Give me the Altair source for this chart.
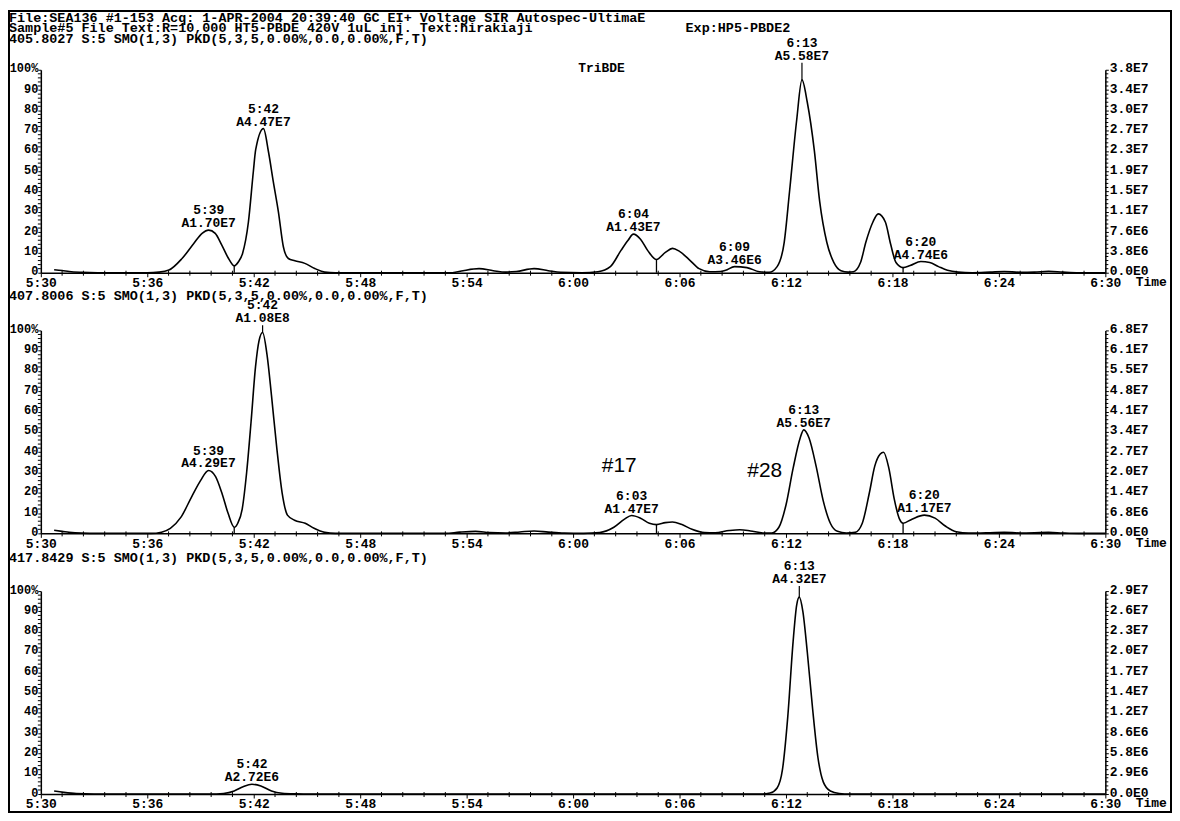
import json
import altair as alt
import pandas as pd

# ---------------- data (time in s, 5:30 = 330 s; intensity in % full scale) ----------------
trace_405 = [
    (330.75, 1.5), (331.2, 1.1), (331.6, 0.6), (332.3, 0.2), (333.2, 0), (336.0, 0), (336.66, 0.3),
    (337.22, 1.3), (337.96, 7), (338.62, 14.4), (339.09, 19.4), (339.46, 21), (339.83, 19.4),
    (340.2, 13.6), (340.58, 7), (340.9, 3.4), (341.14, 5.4), (341.37, 9.5), (341.7, 25), (341.98, 50),
    (342.11, 60.6), (342.55, 71), (342.83, 59.6), (343.1, 45), (343.39, 30), (343.67, 12.8),
    (343.95, 7), (344.32, 5.9), (344.88, 4.6), (345.44, 2.1), (346.0, 0.3), (346.6, 0),
    (353.2, 0), (353.8, 1.0), (354.7, 2.0), (355.5, 1.0), (356.2, 0.3), (356.8, 0.6), (357.8, 2.0),
    (358.6, 1.0), (359.3, 0.2), (360.5, 0), (361.4, 0.5), (362.1, 3), (362.7, 11), (363.1, 16),
    (363.4, 19), (363.8, 16.5), (364.2, 11), (364.7, 6.5), (365.2, 10), (365.6, 12), (366.0, 10.5),
    (366.6, 6), (367.1, 2), (367.7, 0.5), (368.3, 0.6), (368.6, 1.2), (369.1, 3), (369.8, 2.5),
    (370.5, 0.5), (371.05, 0.2), (371.5, 3), (371.9, 15), (372.2, 40), (372.6, 75), (372.9, 95),
    (373.2, 84), (373.6, 60), (373.9, 35), (374.3, 15), (374.7, 5), (375.1, 1), (375.5, 0.3),
    (375.8, 0.5), (376.2, 5), (376.5, 15), (376.9, 25), (377.2, 29), (377.6, 25), (377.9, 14),
    (378.2, 5), (378.6, 2.5), (379.0, 3.5), (379.6, 5.5), (380.1, 5), (380.6, 3), (381.1, 1.2),
    (381.7, 0.3), (382.5, 0), (383.5, 0.3), (384.3, 0.6), (385.2, 0.2), (386.0, 0.3), (386.8, 0.7),
    (387.6, 0.3), (388.5, 0), (390.0, 0),
]
trace_407 = [
    (330.75, 1.5), (331.2, 1.0), (331.6, 0.5), (332.3, 0.1), (333.2, 0), (336.2, 0), (336.8, 0.6),
    (337.3, 2.5), (337.9, 8), (338.5, 18), (339.0, 26), (339.45, 31), (339.85, 28), (340.2, 20),
    (340.55, 10), (340.9, 3), (341.1, 5), (341.35, 12), (341.6, 30), (341.85, 55), (342.1, 82),
    (342.3, 95), (342.5, 99), (342.75, 88), (343.0, 68), (343.3, 42), (343.6, 20), (343.9, 9),
    (344.3, 6.5), (344.9, 5), (345.4, 2.5), (346.0, 0.5), (346.6, 0),
    (352.8, 0), (353.6, 0.6), (354.5, 1.0), (355.3, 0.4), (356.2, 0.2), (357.0, 0.7), (357.8, 1.2),
    (358.6, 0.6), (359.5, 0.1), (360.6, 0), (361.5, 0.4), (362.3, 3), (362.9, 7), (363.3, 8.8),
    (363.8, 7.5), (364.3, 5), (364.7, 4.3), (365.2, 5.3), (365.6, 5.6), (366.1, 4.5), (366.7, 2),
    (367.4, 0.4), (368.0, 0.3), (368.8, 1.4), (369.4, 1.8), (370.0, 1.2), (370.7, 0.2), (371.2, 0.2),
    (371.6, 3), (372.0, 14), (372.4, 32), (372.8, 47), (373.0, 51), (373.3, 47), (373.7, 33),
    (374.1, 16), (374.5, 5), (374.9, 1), (375.4, 0.2), (375.9, 0.5), (376.3, 5), (376.7, 20),
    (377.0, 33), (377.3, 39), (377.5, 40), (377.8, 32), (378.1, 17), (378.4, 7), (378.6, 5),
    (379.1, 7), (379.8, 9), (380.4, 7.5), (381.0, 3.5), (381.6, 0.8), (382.3, 0.1), (383.5, 0.3),
    (384.3, 0.5), (385.2, 0.2), (386.0, 0.3), (386.8, 0.5), (387.6, 0.2), (388.5, 0), (390.0, 0),
]
trace_417 = [
    (330.75, 1.5), (331.3, 0.8), (332.0, 0.2), (333.0, 0), (339.5, 0), (340.3, 0.3), (340.9, 1.5),
    (341.4, 3.6), (341.9, 4.8), (342.4, 4), (343.0, 1.5), (343.6, 0.4), (344.4, 0.1), (345.2, 0),
    (370.6, 0), (371.1, 0.5), (371.5, 3), (371.8, 12), (372.1, 38), (372.4, 75), (372.6, 93),
    (372.75, 97), (372.95, 90), (373.2, 70), (373.5, 42), (373.8, 18), (374.1, 6), (374.5, 1.5),
    (375.0, 0.3), (375.6, 0), (390.0, 0),
]

# peak-separation drop lines (time, height %)
drops_405 = [(340.9, 3.4), (364.7, 6.5), (378.6, 2.5)]
drops_407 = [(340.9, 3.0), (364.7, 4.3), (378.6, 5.0)]
drops_417 = []

# peak labels (apex time, apex %, label base %, retention time text, area text)
peaks_405 = [(339.46, 21, 21, "5:39", "A1.70E7"), (342.55, 71, 71, "5:42", "A4.47E7"),
             (363.4, 19, 19, "6:04", "A1.43E7"), (369.1, 3, 3, "6:09", "A3.46E6"),
             (372.9, 95, 103.5, "6:13", "A5.58E7"), (379.6, 5.5, 5.5, "6:20", "A4.74E6")]
peaks_407 = [(339.45, 31, 31, "5:39", "A4.29E7"), (342.5, 99, 102.5, "5:42", "A1.08E8"),
             (363.3, 8.8, 8.8, "6:03", "A1.47E7"), (373.0, 51, 51, "6:13", "A5.56E7"),
             (379.8, 9, 9, "6:20", "A1.17E7")]
peaks_417 = [(341.9, 4.8, 4.8, "5:42", "A2.72E6"), (372.75, 97, 102.5, "6:13", "A4.32E7")]

# free annotations (time, height %, text)
notes_405 = [(361.6, 100, "TriBDE")]
big_notes_407 = [(362.6, 33, "#17"), (370.8, 30.5, "#28")]

# axis tick values / labels
x_major = [330, 336, 342, 348, 354, 360, 366, 372, 378, 384, 390]
y_major = [0, 10, 20, 30, 40, 50, 60, 70, 80, 90, 100]
right_405 = ["0.0E0", "3.8E6", "7.6E6", "1.1E7", "1.5E7", "1.9E7", "2.3E7", "2.7E7", "3.0E7", "3.4E7", "3.8E7"]
right_407 = ["0.0E0", "6.8E6", "1.4E7", "2.0E7", "2.7E7", "3.4E7", "4.1E7", "4.8E7", "5.5E7", "6.1E7", "6.8E7"]
right_417 = ["0.0E0", "2.9E6", "5.8E6", "8.6E6", "1.2E7", "1.4E7", "1.7E7", "2.0E7", "2.3E7", "2.6E7", "2.9E7"]

NB = "\u00a0"
header_1 = "File:SEA136 #1-153 Acq: 1-APR-2004 20:39:40 GC EI+ Voltage SIR Autospec-UltimaE"
header_2 = "Sample#5 File Text:R=10,000 HT5-PBDE 420V 1uL inj. Text:hirakiaji" + NB * 19 + "Exp:HP5-PBDE2"
func_405 = "405.8027 S:5 SMO(1,3) PKD(5,3,5,0.00%,0.0,0.00%,F,T)"
func_407 = "407.8006 S:5 SMO(1,3) PKD(5,3,5,0.00%,0.0,0.00%,F,T)"
func_417 = "417.8429 S:5 SMO(1,3) PKD(5,3,5,0.00%,0.0,0.00%,F,T)"

# ---------------- layout / style ----------------
W, H = 1070, 204
MONO = "Liberation Mono"
FS = 13
TFS = 13.5

x_minor = [round(330 + 1.2 * i, 2) for i in range(51) if i % 5 != 0]
y_minor = [v for v in range(0, 101, 2) if v % 10 != 0]

xs = alt.Scale(domain=[330, 390], nice=False, zero=False)
ys = alt.Scale(domain=[0, 100], nice=False, zero=False)

time_expr = ("floor(datum.value/60) + ':' + (round(datum.value%60) < 10 ? '0' : '') "
             "+ round(datum.value%60)")


def panel(trace, drops, peaks, right_labels, title_lines, title_offset, notes=None,
          big_notes=None, frame=False):
    df = pd.DataFrame(trace, columns=["t", "v"])
    x_axis = alt.Axis(values=x_major, labelExpr=time_expr, title="Time", titleAnchor="end",
                      titleAlign="left", titleBaseline="top", titleX=W + 30, titleY=3,
                      tickSize=4, labelPadding=0, labelFlush=False, labelOverlap=False,
                      grid=False)
    y_left = alt.Axis(values=y_major, orient="left", title=None, grid=False, tickSize=3,
                      labelPadding=0, labelOffset=-2, labelFontSize=12,
                      labelExpr="datum.value == 100 ? '100%' : datum.value")
    y_right = alt.Axis(values=y_major, orient="right", title=None, grid=False, tickSize=3,
                       labelPadding=1, labelOffset=-2,
                       labelExpr=json.dumps(right_labels) + "[round(datum.value/10)]")

    layers = []
    line = alt.Chart(df).mark_line(color="black", strokeWidth=1.6, interpolate="monotone").encode(
        x=alt.X("t:Q", scale=xs, axis=x_axis),
        y=alt.Y("v:Q", scale=ys, axis=y_left),
    )
    layers.append(line)

    # minor ticks on x axis
    layers.append(alt.Chart(pd.DataFrame({"m": x_minor})).mark_rule(color="black", strokeWidth=1).encode(
        x=alt.X("m:Q", scale=xs, axis=None), y=alt.value(H - 2), y2=alt.value(H + 3)))
    # minor ticks on left axis
    layers.append(alt.Chart(pd.DataFrame({"p": y_minor})).mark_rule(color="black", strokeWidth=1).encode(
        y=alt.Y("p:Q", scale=ys, axis=None), x=alt.value(-3), x2=alt.value(0)))

    if drops:
        ddf = pd.DataFrame(drops, columns=["t", "v"])
        layers.append(alt.Chart(ddf).mark_rule(color="black", strokeWidth=1.3).encode(
            x=alt.X("t:Q", scale=xs, axis=None),
            y=alt.Y("v:Q", scale=ys, axis=None), y2=alt.datum(0)))

    pdf = pd.DataFrame(peaks, columns=["t", "v", "lv", "rt", "area"])
    pdf["lbl"] = pdf["rt"] + "\n" + pdf["area"]
    layers.append(alt.Chart(pdf).mark_text(font=MONO, fontSize=FS, fontWeight="bold", color="black",
                                           lineBreak="\n", lineHeight=13, baseline="bottom", dy=-13).encode(
        x=alt.X("t:Q", scale=xs, axis=None), y=alt.Y("lv:Q", scale=ys, axis=None), text="lbl:N"))
    # apex marker from peak top up to a raised label
    mdf = pdf[pdf["lv"] > pdf["v"]]
    if len(mdf):
        layers.append(alt.Chart(mdf).mark_rule(color="black", strokeWidth=1.2).encode(
            x=alt.X("t:Q", scale=xs, axis=None), y=alt.Y("v:Q", scale=ys, axis=None),
            y2=alt.Y2("lv:Q")))

    if notes:
        ndf = pd.DataFrame(notes, columns=["t", "v", "txt"])
        layers.append(alt.Chart(ndf).mark_text(font=MONO, fontSize=FS, fontWeight="bold", color="black",
                                               baseline="middle", dy=-2).encode(
            x=alt.X("t:Q", scale=xs, axis=None), y=alt.Y("v:Q", scale=ys, axis=None), text="txt:N"))
    if big_notes:
        bdf = pd.DataFrame(big_notes, columns=["t", "v", "txt"])
        layers.append(alt.Chart(bdf).mark_text(font="Liberation Sans", fontSize=21, color="black",
                                               baseline="middle").encode(
            x=alt.X("t:Q", scale=xs, axis=None), y=alt.Y("v:Q", scale=ys, axis=None), text="txt:N"))

    if frame:
        layers.append(alt.Chart(pd.DataFrame({"k": [0]})).mark_rect(
            fillOpacity=0, stroke="black", strokeWidth=2).encode(
            x=alt.value(-32), x2=alt.value(W + 66), y=alt.value(-59), y2=alt.value(746)))

    # right axis with its minor ticks (second y axis on the same scale)
    layers.append(alt.Chart(pd.DataFrame({"p": y_minor})).mark_rule(color="black", strokeWidth=1).encode(
        y=alt.Y("p:Q", scale=ys, axis=y_right), x=alt.value(W), x2=alt.value(W + 3)))

    return alt.layer(*layers).resolve_axis(x="independent", y="independent").properties(
        width=W, height=H,
        title=alt.TitleParams(text=title_lines, anchor="start", frame="group", dx=-32,
                              offset=title_offset, font=MONO, fontSize=TFS, fontWeight="bold",
                              lineHeight=11, baseline="bottom", color="black"),
    )


p1 = panel(trace_405, drops_405, peaks_405, right_405, [header_1, header_2, func_405], -50,
           notes=notes_405, frame=True)
p2 = panel(trace_407, drops_407, peaks_407, right_407, [func_407], -17, big_notes=big_notes_407)
p3 = panel(trace_417, drops_417, peaks_417, right_417, [func_417], -18)

chart = alt.vconcat(p1, p2, p3, spacing=58, bounds="flush").properties(
    padding=0, background="white"
).configure_view(stroke=None).configure_title(lineHeight=11).configure_axis(
    domainColor="black", tickColor="black", labelColor="black", titleColor="black",
    labelFont=MONO, labelFontSize=FS, labelFontWeight="bold",
    titleFont=MONO, titleFontSize=FS, titleFontWeight="bold", domainWidth=1.5,
)

chart.save("out.html", embed_options={"renderer": "svg", "actions": False})
